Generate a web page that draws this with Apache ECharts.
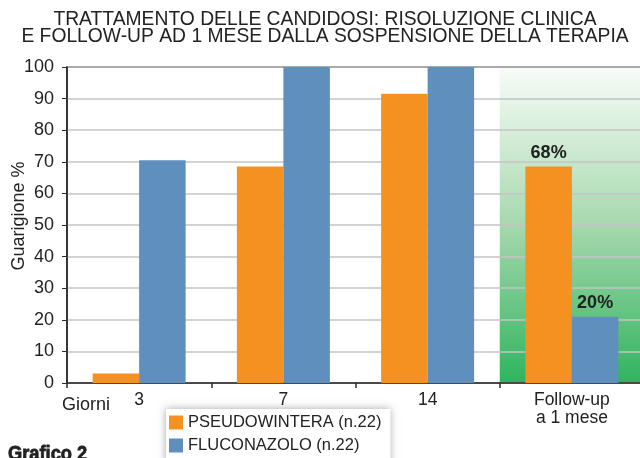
<!DOCTYPE html>
<html>
<head>
<meta charset="utf-8">
<script src="https://cdn.jsdelivr.net/npm/echarts@6/dist/echarts.min.js"></script>
<style>
  html, body { margin: 0; padding: 0; background: #fff; }
  #chart { width: 640px; height: 458px; }
</style>
</head>
<body>
<div id="chart"></div>
<script>
const categories = ['3', '7', '14', 'Follow-up\na 1 mese']
const pseudowintera = [3, 68.5, 91.5, 68.5]
const fluconazolo = [70.5, 100, 100, 21]
const followUpLabels = ['68%', '20%']
const followUpIndex = 3

const font = 'Liberation Sans, Arial, Helvetica, sans-serif'

// label only the follow-up bars
function withLabel(values, text) {
  return values.map((v, i) => i === followUpIndex ? {
    value: v,
    label: {show: true, position: 'top', distance: 5, formatter: text, fontSize: 18, fontWeight: 'bold', color: '#222', fontFamily: font}
  } : v)
}

const myChart = echarts.init(document.getElementById('chart'))
let option = {
  animation: false,
  title: {
    text: 'TRATTAMENTO DELLE CANDIDOSI: RISOLUZIONE CLINICA\nE FOLLOW-UP AD 1 MESE DALLA SOSPENSIONE DELLA TERAPIA',
    left: 325,
    textAlign: 'center',
    top: 6,
    padding: [5, 0, 5, 0],
    textStyle: {
      fontFamily: font,
      fontWeight: 'normal',
      fontSize: 19.3,
      lineHeight: 17,
      color: '#222'
    }
  },
  color: ['#f59120', '#5f8fbd'],
  grid: {
    show: true,
    z: 1.5,
    left: 67,
    top: 67,
    width: 577,
    bottom: 75,
    outerBoundsMode: 'none',
    containLabel: false,
    borderColor: '#2a2a2a',
    borderWidth: 1.5,
    backgroundColor: 'transparent'
  },
  legend: {
    orient: 'vertical',
    left: 166,
    top: 409,
    height: 80,
    data: ['PSEUDOWINTERA (n.22)', 'FLUCONAZOLO (n.22)'],
    icon: 'rect',
    itemWidth: 14,
    itemHeight: 14,
    itemGap: 6,
    padding: [5, 9, 10, 3],
    backgroundColor: '#fff',
    shadowBlur: 8,
    shadowColor: 'rgba(0,0,0,0.35)',
    textStyle: {
      fontFamily: font,
      fontSize: 16.5,
      color: '#222'
    }
  },
  graphic: [
    {
      type: 'text',
      left: 62,
      top: 396,
      style: {text: 'Giorni', fontFamily: font, fontSize: 18, fill: '#222'}
    },
    {
      type: 'text',
      x: 8,
      y: 444,
      scaleX: 0.87,
      style: {
        text: 'Grafico 2', fontFamily: font, fontWeight: 'bold', fontSize: 21,
        fill: '#222', stroke: '#222', lineWidth: 0.8
      }
    }
  ],
  xAxis: [
    {
      type: 'category',
      data: categories,
      z: 1.5,
      axisLine: {lineStyle: {color: '#2a2a2a', width: 1.5}},
      axisTick: {show: true, length: 5, lineStyle: {color: '#2a2a2a', width: 1.5}},
      axisLabel: {
        interval: 0,
        fontFamily: font,
        fontSize: 17.5,
        lineHeight: 18,
        color: '#222',
        margin: 8
      }
    },
    {
      // hidden helper axis for the shaded follow-up band
      type: 'value',
      min: 0,
      max: 4,
      show: false
    }
  ],
  yAxis: {
    type: 'value',
    min: 0,
    max: 100,
    interval: 10,
    z: 1.5,
    name: 'Guarigione %',
    nameLocation: 'middle',
    nameGap: 39,
    nameMoveOverlap: false,
    nameTextStyle: {fontFamily: font, fontSize: 18, color: '#222', padding: [0, 0, 0, 18]},
    axisLine: {show: true, lineStyle: {color: '#2a2a2a', width: 1.5}},
    axisTick: {show: true, length: 5, lineStyle: {color: '#2a2a2a', width: 1}},
    axisLabel: {fontFamily: font, fontSize: 18, color: '#222', margin: 13},
    splitLine: {lineStyle: {color: '#c4c4c4', width: 1.5}}
  },
  series: [
    {
      name: 'PSEUDOWINTERA (n.22)',
      type: 'bar',
      barWidth: 46.5,
      barGap: '0%',
      z: 2,
      data: withLabel(pseudowintera, followUpLabels[0])
    },
    {
      name: 'FLUCONAZOLO (n.22)',
      type: 'bar',
      barWidth: 46.5,
      z: 2,
      data: withLabel(fluconazolo, followUpLabels[1])
    },
    {
      name: 'band',
      type: 'line',
      xAxisIndex: 1,
      data: [],
      markArea: {
        silent: true,
        z: 1,
        itemStyle: {
          color: new echarts.graphic.LinearGradient(0, 0, 0, 1, [
            {offset: 0, color: '#f8fcf8'},
            {offset: 0.5, color: '#a6d8ae'},
            {offset: 1, color: '#2fb45e'}
          ])
        },
        data: [[{xAxis: 3, yAxis: 0}, {xAxis: 4, yAxis: 100}]]
      }
    }
  ]
}
myChart.setOption(option)
</script>
</body>
</html>
